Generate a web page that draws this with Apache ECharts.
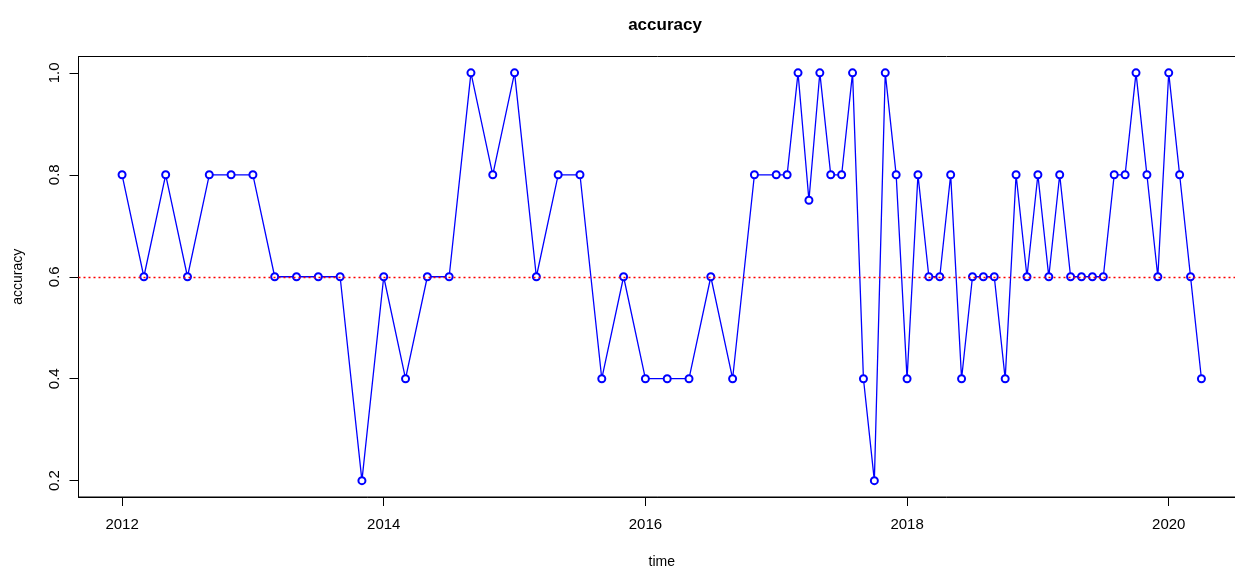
<!DOCTYPE html>
<html>
<head>
<meta charset="utf-8">
<script src="https://cdn.jsdelivr.net/npm/echarts@6/dist/echarts.min.js"></script>
<style>
  html, body { margin: 0; padding: 0; background: #fff; }
  #chart { width: 1235px; height: 566px; }
</style>
</head>
<body>
<div id="chart"></div>
<script>
// observation months (every 2 months up to 2017-01, then monthly)
const months = [
  "2012-01", "2012-03", "2012-05", "2012-07", "2012-09", "2012-11",
  "2013-01", "2013-03", "2013-05", "2013-07", "2013-09", "2013-11",
  "2014-01", "2014-03", "2014-05", "2014-07", "2014-09", "2014-11",
  "2015-01", "2015-03", "2015-05", "2015-07", "2015-09", "2015-11",
  "2016-01", "2016-03", "2016-05", "2016-07", "2016-09", "2016-11",
  "2017-01", "2017-02", "2017-03", "2017-04", "2017-05", "2017-06",
  "2017-07", "2017-08", "2017-09", "2017-10", "2017-11", "2017-12",
  "2018-01", "2018-02", "2018-03", "2018-04", "2018-05", "2018-06",
  "2018-07", "2018-08", "2018-09", "2018-10", "2018-11", "2018-12",
  "2019-01", "2019-02", "2019-03", "2019-04", "2019-05", "2019-06",
  "2019-07", "2019-08", "2019-09", "2019-10", "2019-11", "2019-12",
  "2020-01", "2020-02", "2020-03", "2020-04"
];

const accuracy = [
  0.8, 0.6, 0.8, 0.6, 0.8, 0.8,
  0.8, 0.6, 0.6, 0.6, 0.6, 0.2,
  0.6, 0.4, 0.6, 0.6, 1.0, 0.8,
  1.0, 0.6, 0.8, 0.8, 0.4, 0.6,
  0.4, 0.4, 0.4, 0.6, 0.4, 0.8,
  0.8, 0.8, 1.0, 0.75, 1.0, 0.8,
  0.8, 1.0, 0.4, 0.2, 1.0, 0.8,
  0.4, 0.8, 0.6, 0.6, 0.8, 0.4,
  0.6, 0.6, 0.6, 0.4, 0.8, 0.6,
  0.8, 0.6, 0.8, 0.6, 0.6, 0.6,
  0.6, 0.8, 0.8, 1.0, 0.8, 0.6,
  1.0, 0.8, 0.6, 0.4
];

const refLine = 0.6;
const xTicks = [2012, 2014, 2016, 2018, 2020];
const yTicks = [0.2, 0.4, 0.6, 0.8, 1.0];

// "YYYY-MM" -> decimal year
const toYear = (s) => {
  const [y, m] = s.split("-").map(Number);
  return y + (m - 1) / 12;
};
const points = months.map((m, i) => [toYear(m), accuracy[i]]);

const font = "'Liberation Sans', Arial, sans-serif";

const chart = echarts.init(document.getElementById("chart"));
chart.setOption({
  animation: false,
  title: {
    text: "accuracy",
    left: 660,
    top: 12,
    textAlign: "center",
    textStyle: { fontFamily: font, fontSize: 17, fontWeight: "bold", color: "#000" },
  },
  // plot box runs past the right edge, as in the cropped original
  grid: {
    left: 78.5, right: -10, top: 56.5, bottom: 69,
    outerBoundsMode: "none",
    containLabel: false,
    show: true, borderColor: "#000", borderWidth: 1, backgroundColor: "transparent",
  },
  xAxis: {
    type: "value",
    min: 2011.667,
    max: 2020.583,
    name: "time",
    nameLocation: "middle",
    nameGap: 58,
    nameTextStyle: { fontFamily: font, fontSize: 14, color: "#000" },
    axisLine: { show: true, lineStyle: { color: "#000", width: 1 } },
    axisTick: { show: true, length: 9, customValues: xTicks, lineStyle: { color: "#000" } },
    axisLabel: {
      customValues: xTicks, margin: 20,
      fontFamily: font, fontSize: 15, color: "#000",
      formatter: (v) => String(v),
    },
    splitLine: { show: false },
  },
  yAxis: {
    type: "value",
    min: 0.168,
    max: 1.032,
    name: "accuracy",
    nameLocation: "middle",
    nameGap: 53,
    nameRotate: 90,
    nameTextStyle: { fontFamily: font, fontSize: 14, color: "#000" },
    axisLine: { show: true, lineStyle: { color: "#000", width: 1 } },
    axisTick: { show: true, length: 9, customValues: yTicks, lineStyle: { color: "#000" } },
    axisLabel: {
      customValues: yTicks, rotate: 90, margin: 16,
      fontFamily: font, fontSize: 15, color: "#000",
      formatter: (v) => v.toFixed(1),
    },
    splitLine: { show: false },
  },
  series: [
    {
      name: "accuracy",
      type: "line",
      data: points,
      symbol: "emptyCircle",
      symbolSize: 7,
      showAllSymbol: true,
      lineStyle: { color: "#0000ff", width: 1.3 },
      itemStyle: { color: "#0000ff", borderColor: "#0000ff", borderWidth: 1 },
      markLine: {
        silent: true,
        symbol: "none",
        label: { show: false },
        lineStyle: { color: "#ff0000", type: [2, 3], width: 1.3 },
        data: [{ yAxis: refLine }],
      },
    },
  ],
});
</script>
</body>
</html>
